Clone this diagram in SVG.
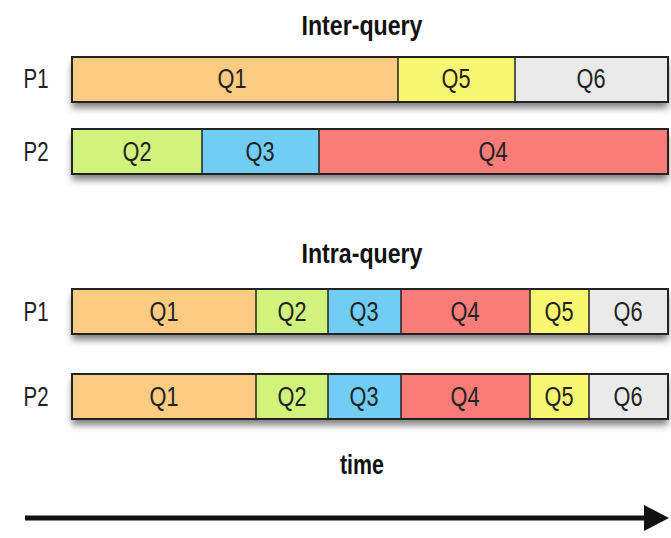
<svg xmlns="http://www.w3.org/2000/svg" width="671" height="538" viewBox="0 0 671 538">
<defs>
<filter id="sh" x="-5%" y="-30%" width="110%" height="190%">
<feDropShadow dx="0" dy="6" stdDeviation="3.5" flood-color="#000" flood-opacity="0.5"/>
</filter>
</defs>
<style>
.t{font-family:"Liberation Sans Narrow","Liberation Sans",Arial,sans-serif;font-size:27px;fill:#222;text-anchor:middle}
.h{font-family:"Liberation Sans Narrow","Liberation Sans",Arial,sans-serif;font-size:27px;font-weight:bold;fill:#111;text-anchor:middle}
.c{stroke:#222;stroke-width:1.5}
.o{stroke:#222;stroke-width:2;fill:none}
.q1{fill:#FDCB82}.q2{fill:#D2F27E}.q3{fill:#72CDF4}.q4{fill:#F97C78}.q5{fill:#F9F771}.q6{fill:#EAEAEA}
</style>
<text class="h" x="362" y="35" textLength="121" lengthAdjust="spacingAndGlyphs">Inter-query</text>
<text class="h" x="362" y="263" textLength="121" lengthAdjust="spacingAndGlyphs">Intra-query</text>
<text class="h" x="362" y="474" font-size="24" textLength="44" lengthAdjust="spacingAndGlyphs">time</text>

<g id="inter-p1">
<text class="t" x="36" y="88" textLength="25" lengthAdjust="spacingAndGlyphs">P1</text>
<g filter="url(#sh)">
<rect class="q1" x="72" y="57" width="326" height="45"/>
<rect class="q5" x="398" y="57" width="117" height="45"/>
<rect class="q6" x="515" y="57" width="153" height="45"/>
</g>
<line class="c" x1="398" y1="57" x2="398" y2="102"/>
<line class="c" x1="515" y1="57" x2="515" y2="102"/>
<rect class="o" x="72" y="57" width="596" height="45"/>
<text class="t" x="232" y="88" textLength="29" lengthAdjust="spacingAndGlyphs">Q1</text>
<text class="t" x="456" y="88" textLength="29" lengthAdjust="spacingAndGlyphs">Q5</text>
<text class="t" x="591" y="88" textLength="29" lengthAdjust="spacingAndGlyphs">Q6</text>
</g>

<g id="inter-p2">
<text class="t" x="36" y="161" textLength="25" lengthAdjust="spacingAndGlyphs">P2</text>
<g filter="url(#sh)">
<rect class="q2" x="72" y="129" width="130" height="45"/>
<rect class="q3" x="202" y="129" width="117" height="45"/>
<rect class="q4" x="319" y="129" width="349" height="45"/>
</g>
<line class="c" x1="202" y1="129" x2="202" y2="174"/>
<line class="c" x1="319" y1="129" x2="319" y2="174"/>
<rect class="o" x="72" y="129" width="596" height="45"/>
<text class="t" x="137" y="161" textLength="29" lengthAdjust="spacingAndGlyphs">Q2</text>
<text class="t" x="260" y="161" textLength="29" lengthAdjust="spacingAndGlyphs">Q3</text>
<text class="t" x="493" y="161" textLength="29" lengthAdjust="spacingAndGlyphs">Q4</text>
</g>

<g id="intra-p1">
<text class="t" x="36" y="321" textLength="25" lengthAdjust="spacingAndGlyphs">P1</text>
<g filter="url(#sh)">
<rect class="q1" x="72" y="289" width="184" height="45"/>
<rect class="q2" x="256" y="289" width="72" height="45"/>
<rect class="q3" x="328" y="289" width="73" height="45"/>
<rect class="q4" x="401" y="289" width="129" height="45"/>
<rect class="q5" x="530" y="289" width="59" height="45"/>
<rect class="q6" x="589" y="289" width="79" height="45"/>
</g>
<line class="c" x1="256" y1="289" x2="256" y2="334"/>
<line class="c" x1="328" y1="289" x2="328" y2="334"/>
<line class="c" x1="401" y1="289" x2="401" y2="334"/>
<line class="c" x1="530" y1="289" x2="530" y2="334"/>
<line class="c" x1="589" y1="289" x2="589" y2="334"/>
<rect class="o" x="72" y="289" width="596" height="45"/>
<text class="t" x="164" y="321" textLength="29" lengthAdjust="spacingAndGlyphs">Q1</text>
<text class="t" x="292" y="321" textLength="29" lengthAdjust="spacingAndGlyphs">Q2</text>
<text class="t" x="364" y="321" textLength="29" lengthAdjust="spacingAndGlyphs">Q3</text>
<text class="t" x="465" y="321" textLength="29" lengthAdjust="spacingAndGlyphs">Q4</text>
<text class="t" x="559" y="321" textLength="29" lengthAdjust="spacingAndGlyphs">Q5</text>
<text class="t" x="628" y="321" textLength="29" lengthAdjust="spacingAndGlyphs">Q6</text>
</g>

<g id="intra-p2">
<text class="t" x="36" y="406" textLength="25" lengthAdjust="spacingAndGlyphs">P2</text>
<g filter="url(#sh)">
<rect class="q1" x="72" y="374" width="184" height="45"/>
<rect class="q2" x="256" y="374" width="72" height="45"/>
<rect class="q3" x="328" y="374" width="73" height="45"/>
<rect class="q4" x="401" y="374" width="129" height="45"/>
<rect class="q5" x="530" y="374" width="59" height="45"/>
<rect class="q6" x="589" y="374" width="79" height="45"/>
</g>
<line class="c" x1="256" y1="374" x2="256" y2="419"/>
<line class="c" x1="328" y1="374" x2="328" y2="419"/>
<line class="c" x1="401" y1="374" x2="401" y2="419"/>
<line class="c" x1="530" y1="374" x2="530" y2="419"/>
<line class="c" x1="589" y1="374" x2="589" y2="419"/>
<rect class="o" x="72" y="374" width="596" height="45"/>
<text class="t" x="164" y="406" textLength="29" lengthAdjust="spacingAndGlyphs">Q1</text>
<text class="t" x="292" y="406" textLength="29" lengthAdjust="spacingAndGlyphs">Q2</text>
<text class="t" x="364" y="406" textLength="29" lengthAdjust="spacingAndGlyphs">Q3</text>
<text class="t" x="465" y="406" textLength="29" lengthAdjust="spacingAndGlyphs">Q4</text>
<text class="t" x="559" y="406" textLength="29" lengthAdjust="spacingAndGlyphs">Q5</text>
<text class="t" x="628" y="406" textLength="29" lengthAdjust="spacingAndGlyphs">Q6</text>
</g>

<g id="connectors">
<line x1="25" y1="518" x2="648" y2="518" stroke="#111" stroke-width="5"/>
<polygon points="644,505 669,518 644,531" fill="#111"/>
</g>
</svg>
